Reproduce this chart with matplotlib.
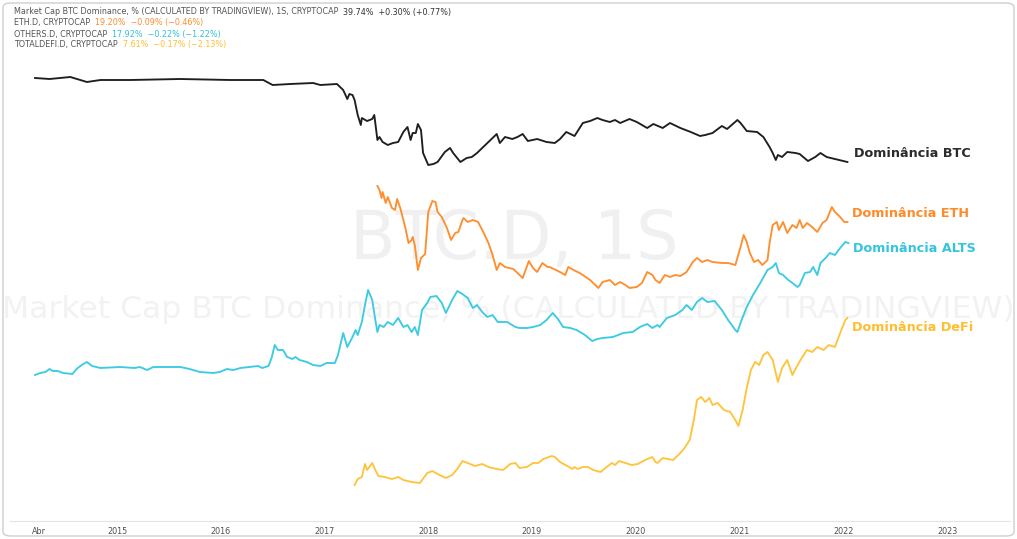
import matplotlib
matplotlib.use("Agg")
import matplotlib.pyplot as plt
from matplotlib.patches import FancyBboxPatch

# ---------------- data (x = fractional year, y = relative dominance level, arbitrary units) -------------
btc_x = [2014.21, 2014.35, 2014.55, 2014.71, 2014.84, 2015.13, 2015.61, 2016.09, 2016.41, 2016.50,
         2016.67, 2016.89, 2016.96, 2017.12, 2017.18, 2017.22, 2017.24, 2017.27, 2017.29, 2017.32,
         2017.35, 2017.36, 2017.41, 2017.46, 2017.48, 2017.51, 2017.53, 2017.56, 2017.61, 2017.66,
         2017.71, 2017.76, 2017.80, 2017.83, 2017.85, 2017.88, 2017.90, 2017.93, 2017.95, 2018.00,
         2018.05, 2018.09, 2018.16, 2018.21, 2018.24, 2018.31, 2018.37, 2018.42, 2018.47, 2018.53,
         2018.60, 2018.66, 2018.69, 2018.74, 2018.81, 2018.86, 2018.91, 2018.96, 2019.05, 2019.14,
         2019.22, 2019.27, 2019.33, 2019.37, 2019.41, 2019.49, 2019.56, 2019.63, 2019.68, 2019.75,
         2019.80, 2019.85, 2019.94, 2020.01, 2020.11, 2020.17, 2020.26, 2020.33, 2020.43, 2020.53,
         2020.62, 2020.67, 2020.74, 2020.83, 2020.88, 2020.98, 2021.01, 2021.07, 2021.17, 2021.23,
         2021.29, 2021.32, 2021.35, 2021.37, 2021.41, 2021.46, 2021.54, 2021.58, 2021.66, 2021.73,
         2021.78, 2021.84, 2021.92, 2022.04]
btc_y = [443, 442, 444, 439, 441, 441, 442, 441, 441, 436,
         437, 438, 436, 437, 431, 422, 427, 426, 421, 406,
         396, 403, 400, 402, 406, 381, 384, 379, 376, 378,
         379, 389, 394, 381, 388, 388, 397, 391, 368, 356,
         357, 359, 369, 373, 368, 359, 363, 364, 368, 374,
         381, 387, 378, 384, 382, 384, 387, 380, 382, 379,
         378, 382, 389, 387, 385, 398, 400, 403, 401, 399,
         401, 398, 402, 399, 393, 397, 393, 398, 393, 389,
         385, 386, 388, 395, 392, 401, 398, 390, 389, 384,
         374, 368, 361, 366, 364, 369, 368, 367, 360, 364,
         368, 364, 362, 359]

eth_x = [2017.51, 2017.53, 2017.55, 2017.56, 2017.59, 2017.61, 2017.65, 2017.68, 2017.70, 2017.73,
         2017.78, 2017.81, 2017.84, 2017.85, 2017.87, 2017.90, 2017.93, 2017.97, 2018.00, 2018.04,
         2018.07, 2018.09, 2018.13, 2018.18, 2018.22, 2018.26, 2018.29, 2018.33, 2018.34, 2018.38,
         2018.43, 2018.48, 2018.53, 2018.58, 2018.62, 2018.66, 2018.69, 2018.74, 2018.82, 2018.88,
         2018.91, 2018.97, 2019.01, 2019.05, 2019.10, 2019.15, 2019.17, 2019.27, 2019.32, 2019.35,
         2019.40, 2019.46, 2019.56, 2019.64, 2019.68, 2019.75, 2019.80, 2019.85, 2019.90, 2019.94,
         2020.01, 2020.06, 2020.11, 2020.16, 2020.19, 2020.23, 2020.28, 2020.33, 2020.38, 2020.43,
         2020.49, 2020.55, 2020.59, 2020.64, 2020.69, 2020.74, 2020.83, 2020.89, 2020.96, 2021.01,
         2021.04, 2021.07, 2021.10, 2021.14, 2021.18, 2021.22, 2021.27, 2021.29, 2021.32, 2021.36,
         2021.38, 2021.42, 2021.46, 2021.51, 2021.55, 2021.58, 2021.61, 2021.65, 2021.70, 2021.75,
         2021.80, 2021.84, 2021.89, 2021.92, 2021.97, 2022.01, 2022.04]
eth_y = [335, 331, 323, 329, 318, 324, 313, 311, 322, 313,
         293, 278, 281, 284, 276, 251, 263, 267, 309, 320,
         319, 309, 304, 293, 281, 288, 289, 301, 303, 299,
         301, 299, 289, 278, 266, 251, 258, 254, 252, 246,
         243, 260, 253, 249, 258, 254, 254, 249, 246, 254,
         251, 248, 241, 233, 239, 241, 236, 239, 236, 233,
         234, 238, 249, 246, 241, 238, 246, 244, 246, 245,
         249, 259, 263, 259, 261, 259, 258, 258, 256, 274,
         286, 279, 268, 259, 261, 256, 261, 278, 296, 299,
         291, 299, 288, 296, 293, 301, 293, 298, 294, 289,
         298, 301, 314, 309, 304, 299, 299]

alts_x = [2014.21, 2014.26, 2014.31, 2014.35, 2014.38, 2014.43, 2014.48, 2014.57, 2014.61, 2014.66,
          2014.71, 2014.76, 2014.84, 2015.03, 2015.17, 2015.22, 2015.29, 2015.35, 2015.61, 2015.70,
          2015.80, 2015.93, 2015.99, 2016.06, 2016.12, 2016.19, 2016.28, 2016.36, 2016.40, 2016.46,
          2016.49, 2016.52, 2016.55, 2016.60, 2016.64, 2016.69, 2016.72, 2016.76, 2016.83, 2016.89,
          2016.96, 2017.02, 2017.10, 2017.13, 2017.18, 2017.22, 2017.27, 2017.30, 2017.32, 2017.36,
          2017.39, 2017.42, 2017.46, 2017.49, 2017.51, 2017.53, 2017.57, 2017.61, 2017.66, 2017.71,
          2017.76, 2017.80, 2017.84, 2017.87, 2017.90, 2017.94, 2017.99, 2018.02, 2018.08, 2018.13,
          2018.17, 2018.23, 2018.28, 2018.33, 2018.38, 2018.43, 2018.47, 2018.52, 2018.57, 2018.62,
          2018.67, 2018.76, 2018.84, 2018.88, 2018.95, 2019.01, 2019.08, 2019.14, 2019.20, 2019.25,
          2019.30, 2019.37, 2019.43, 2019.51, 2019.58, 2019.63, 2019.68, 2019.78, 2019.88, 2019.97,
          2020.04, 2020.11, 2020.16, 2020.21, 2020.23, 2020.30, 2020.38, 2020.45, 2020.49, 2020.54,
          2020.59, 2020.64, 2020.69, 2020.76, 2020.83, 2020.89, 2020.96, 2020.98, 2021.02, 2021.07,
          2021.13, 2021.20, 2021.27, 2021.32, 2021.35, 2021.38, 2021.42, 2021.47, 2021.51, 2021.56,
          2021.58, 2021.63, 2021.68, 2021.71, 2021.75, 2021.78, 2021.83, 2021.87, 2021.92, 2021.97,
          2022.02, 2022.05]
alts_y = [146, 148, 149, 152, 150, 150, 148, 147, 152, 156,
          159, 155, 153, 154, 153, 154, 151, 154, 154, 152,
          149, 148, 149, 152, 151, 153, 154, 155, 153, 155,
          163, 176, 171, 171, 164, 162, 164, 161, 159, 156,
          155, 158, 158, 166, 188, 174, 184, 191, 186, 199,
          216, 231, 221, 201, 189, 196, 194, 199, 196, 203,
          194, 196, 189, 194, 186, 211, 218, 224, 225, 218,
          208, 221, 230, 227, 223, 213, 216, 209, 204, 206,
          199, 199, 194, 193, 193, 194, 196, 201, 208, 202,
          194, 193, 191, 186, 180, 182, 183, 184, 188, 189,
          194, 197, 193, 196, 194, 203, 206, 211, 216, 211,
          219, 223, 219, 220, 211, 201, 191, 189, 201, 214,
          226, 238, 251, 254, 258, 248, 246, 241, 238, 234,
          236, 248, 249, 254, 246, 258, 263, 268, 266, 273,
          279, 278]

defi_x = [2017.29, 2017.32, 2017.36, 2017.39, 2017.41, 2017.46, 2017.49, 2017.52, 2017.58, 2017.65,
          2017.71, 2017.76, 2017.84, 2017.92, 2017.99, 2018.04, 2018.09, 2018.17, 2018.23, 2018.28,
          2018.33, 2018.38, 2018.45, 2018.52, 2018.58, 2018.66, 2018.72, 2018.79, 2018.84, 2018.88,
          2018.95, 2019.01, 2019.06, 2019.11, 2019.19, 2019.22, 2019.27, 2019.34, 2019.39, 2019.41,
          2019.44, 2019.49, 2019.54, 2019.59, 2019.66, 2019.72, 2019.77, 2019.80, 2019.84, 2019.90,
          2019.96, 2020.02, 2020.09, 2020.16, 2020.19, 2020.21, 2020.26, 2020.31, 2020.36, 2020.43,
          2020.47, 2020.52, 2020.56, 2020.59, 2020.63, 2020.67, 2020.71, 2020.74, 2020.79, 2020.85,
          2020.91, 2020.96, 2020.99, 2021.03, 2021.07, 2021.11, 2021.15, 2021.19, 2021.23, 2021.27,
          2021.32, 2021.37, 2021.41, 2021.46, 2021.51, 2021.56, 2021.60, 2021.65, 2021.70, 2021.75,
          2021.81, 2021.86, 2021.92, 2021.97, 2022.02, 2022.04]
defi_y = [36, 42, 44, 57, 51, 58, 51, 45, 44, 42,
          44, 41, 39, 38, 48, 50, 47, 43, 46, 52,
          60, 58, 55, 57, 54, 52, 51, 57, 58, 53,
          54, 58, 58, 62, 65, 64, 59, 55, 52, 54,
          52, 54, 54, 51, 49, 54, 58, 56, 60, 58,
          56, 57, 61, 64, 59, 58, 63, 62, 61, 68,
          73, 81, 101, 121, 124, 119, 123, 116, 118, 111,
          109, 101, 95, 111, 133, 151, 159, 156, 166, 169,
          161, 139, 153, 161, 146, 156, 163, 171, 169, 174,
          171, 176, 174, 188, 201, 203]

series_names = ["Dominância BTC", "Dominância ETH", "Dominância ALTS", "Dominância DeFi"]
tick_years = [2014.25, 2015, 2016, 2017, 2018, 2019, 2020, 2021, 2022, 2023]
tick_labels = ["Abr", "2015", "2016", "2017", "2018", "2019", "2020", "2021", "2022", "2023"]

header_names = ["Market Cap BTC Dominance, % (CALCULATED BY TRADINGVIEW), 1S, CRYPTOCAP",
                "ETH.D, CRYPTOCAP", "OTHERS.D, CRYPTOCAP", "TOTALDEFI.D, CRYPTOCAP"]
header_values = ["39.74%  +0.30% (+0.77%)", "19.20%  \u22120.09% (\u22120.46%)",
                 "17.92%  \u22120.22% (\u22121.22%)", "7.61%  \u22120.17% (\u22122.13%)"]

# ---------------- styling -------------
W, H = 1017, 539
c_btc, c_eth, c_alts, c_defi = "#1e1e1e", "#ff8f2e", "#3ccbe3", "#ffc43d"
label_colors = ["#2b2b2b", "#ff8a28", "#33c4de", "#ffbd30"]
line_colors = [c_btc, c_eth, c_alts, c_defi]

fig = plt.figure(figsize=(W / 100, H / 100), dpi=100)
fig.patch.set_facecolor("white")

x_left_px, x_right_px = 10, 1010
px_per_year = 103.75
x0 = 2015 + (x_left_px - 117) / px_per_year
x1 = 2015 + (x_right_px - 117) / px_per_year

ax = fig.add_axes([x_left_px / W, 18 / H, (x_right_px - x_left_px) / W, (521 - 10) / H])
ax.set_xlim(x0, x1)
ax.set_ylim(0, 511)
for s in ["left", "right", "top"]:
    ax.spines[s].set_visible(False)
ax.spines["bottom"].set_color("#e3e3e3")
ax.spines["bottom"].set_linewidth(0.8)
ax.set_yticks([])
ax.set_xticks(tick_years)
ax.set_xticklabels(tick_labels, fontsize=5.8, color="#505050")
ax.tick_params(axis="x", length=0, pad=4)

# watermarks
ax.text(0.506, 0.555, "BTC.D, 1S", transform=fig.transFigure, ha="center", va="center",
        fontsize=48, color="#f0f0f0", zorder=0)
ax.text(0.500, 0.425, "Market Cap BTC Dominance, % (CALCULATED BY TRADINGVIEW)",
        transform=fig.transFigure, ha="center", va="center", fontsize=22.6, color="#f2f2f2", zorder=0)

xs = [btc_x, eth_x, alts_x, defi_x]
ys = [btc_y, eth_y, alts_y, defi_y]
offsets = [(5, 6), (3, 6), (3, -4), (3, -7)]
for x, y, col, lab, lc, off in zip(xs, ys, line_colors, series_names, label_colors, offsets):
    ax.plot(x, y, color=col, lw=1.35, solid_joinstyle="round", zorder=3)
    ax.annotate(lab, xy=(x[-1], y[-1]), xytext=off, textcoords="offset points",
                ha="left", va="center", fontsize=9.2, fontweight="bold", color=lc, zorder=4)

# header legend
fig.canvas.draw()
renderer = fig.canvas.get_renderer()
val_colors = ["#333333", "#ff8f2e", "#2fc0da", "#ffbd30"]
for i, (nm, vl, vc) in enumerate(zip(header_names, header_values, val_colors)):
    ypos = 1 - (12 + 11 * i) / H
    t = fig.text(14 / W, ypos, nm, fontsize=5.8, color="#555555", ha="left", va="center")
    bb = t.get_window_extent(renderer)
    fig.text((bb.x1 + 5) / W, ypos, vl, fontsize=5.8, color=vc, ha="left", va="center")

# outer border
fig.patches.append(FancyBboxPatch((3 / W, 3 / H), 1 - 6 / W, 1 - 6 / H,
                                  boxstyle="round,pad=0,rounding_size=0.008",
                                  transform=fig.transFigure, fill=False,
                                  edgecolor="#cfcfcf", lw=1.0))

fig.savefig("out.png", dpi=100, facecolor="white")
